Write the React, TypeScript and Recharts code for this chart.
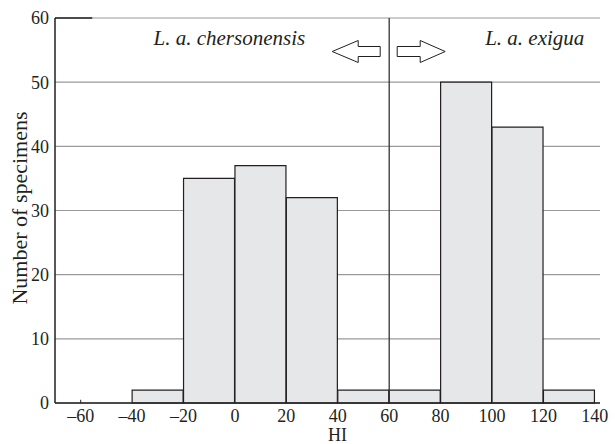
import React from 'react';
import {
  ComposedChart,
  Bar,
  XAxis,
  YAxis,
  CartesianGrid,
  ReferenceLine,
} from 'recharts';

// histogram bins (left edges, width 20) and counts per bin
const binStarts = [-60, -40, -20, 0, 20, 40, 60, 80, 100, 120];
const binWidth = 20;
const counts = [0, 2, 35, 37, 32, 2, 2, 50, 43, 2];
const xTicks = [-60, -40, -20, 0, 20, 40, 60, 80, 100, 120, 140];
const yTicks = [0, 10, 20, 30, 40, 50, 60];
const boundary = 60;
const leftLabel = 'L. a. chersonensis';
const rightLabel = 'L. a. exigua';

const data = binStarts.map((s, i) => ({ mid: s + binWidth / 2, count: counts[i] }));

const FONT = '"Liberation Serif", "Times New Roman", serif';
const INK = '#231f20';

const Annotations = (props: any) => {
  const { viewBox } = props;
  const lx = viewBox.x;
  const ty = viewBox.y;
  const cy = ty + 33.5;
  const leftArrow = [
    [lx - 57, cy],
    [lx - 31, cy - 11],
    [lx - 31, cy - 5],
    [lx - 9, cy - 5],
    [lx - 9, cy + 5],
    [lx - 31, cy + 5],
    [lx - 31, cy + 11],
  ];
  const rightArrow = [
    [lx + 56, cy],
    [lx + 31, cy - 11],
    [lx + 31, cy - 5],
    [lx + 8, cy - 5],
    [lx + 8, cy + 5],
    [lx + 31, cy + 5],
    [lx + 31, cy + 11],
  ];
  return (
    <g>
      <polygon points={leftArrow.map((p) => p.join(',')).join(' ')} fill="#fff" stroke={INK} strokeWidth={1} />
      <polygon points={rightArrow.map((p) => p.join(',')).join(' ')} fill="#fff" stroke={INK} strokeWidth={1} />
      <text x={lx - 84} y={ty + 27} textAnchor="end" fontFamily={FONT} fontStyle="italic" fontSize={21} fill={INK}>
        {leftLabel}
      </text>
      <text x={lx + 96} y={ty + 27} textAnchor="start" fontFamily={FONT} fontStyle="italic" fontSize={21} fill={INK}>
        {rightLabel}
      </text>
    </g>
  );
};

const YTitle = () => {
  const x = 27;
  const y = 208;
  return (
    <text x={x} y={y} transform={`rotate(-90, ${x}, ${y})`} textAnchor="middle" fontFamily={FONT} fontSize={22} fill={INK}>
      Number of specimens
    </text>
  );
};

const XTitle = (props: any) => {
  const { viewBox } = props;
  const x = viewBox.x + viewBox.width / 2 + 10;
  return (
    <text x={x} y={440.5} textAnchor="middle" fontFamily={FONT} fontSize={18} fill={INK}>
      HI
    </text>
  );
};

export default function App() {
  return (
    <div style={{ position: 'absolute', left: 0, top: 0, background: '#fff' }}>
      <ComposedChart
        width={615}
        height={444}
        data={data}
        margin={{ top: 18, right: 15, bottom: 0, left: 0 }}
        barCategoryGap={0}
        barGap={0}
      >
        <CartesianGrid vertical={false} stroke="#9a9a9a" strokeWidth={1.2} />
        <XAxis
          type="number"
          dataKey="mid"
          domain={[-70, 142]}
          ticks={xTicks}
          allowDataOverflow
          height={41}
          tickLine={false}
          tickSize={0}
          tickMargin={6}
          axisLine={{ stroke: INK, strokeWidth: 1.5 }}
          tick={{ fill: INK, fontSize: 18, fontFamily: FONT }}
          tickFormatter={(v: number) => String(v).replace('-', '\u2013')}
          label={(p: any) => <XTitle {...p} />}
        />
        <YAxis
          domain={[0, 60]}
          ticks={yTicks}
          width={55}
          tickLine={false}
          tickSize={0}
          tickMargin={6}
          axisLine={{ stroke: INK, strokeWidth: 1.5 }}
          tick={{ fill: INK, fontSize: 18, fontFamily: FONT }}
          label={() => <YTitle />}
        />
        <Bar dataKey="count" fill="#e6e7e8" stroke={INK} strokeWidth={1.2} isAnimationActive={false} />
        <ReferenceLine
          segment={[{ x: -70, y: 60 }, { x: -55.5, y: 60 }]}
          stroke={INK}
          strokeWidth={1.5}
        />
        <ReferenceLine segment={[{ x: -60, y: 0 }, { x: -60, y: 0.5 }]} stroke={INK} strokeWidth={1} />
        <ReferenceLine
          x={boundary}
          stroke="#333"
          strokeWidth={1.3}
          label={(p: any) => <Annotations {...p} />}
        />
      </ComposedChart>
    </div>
  );
}
